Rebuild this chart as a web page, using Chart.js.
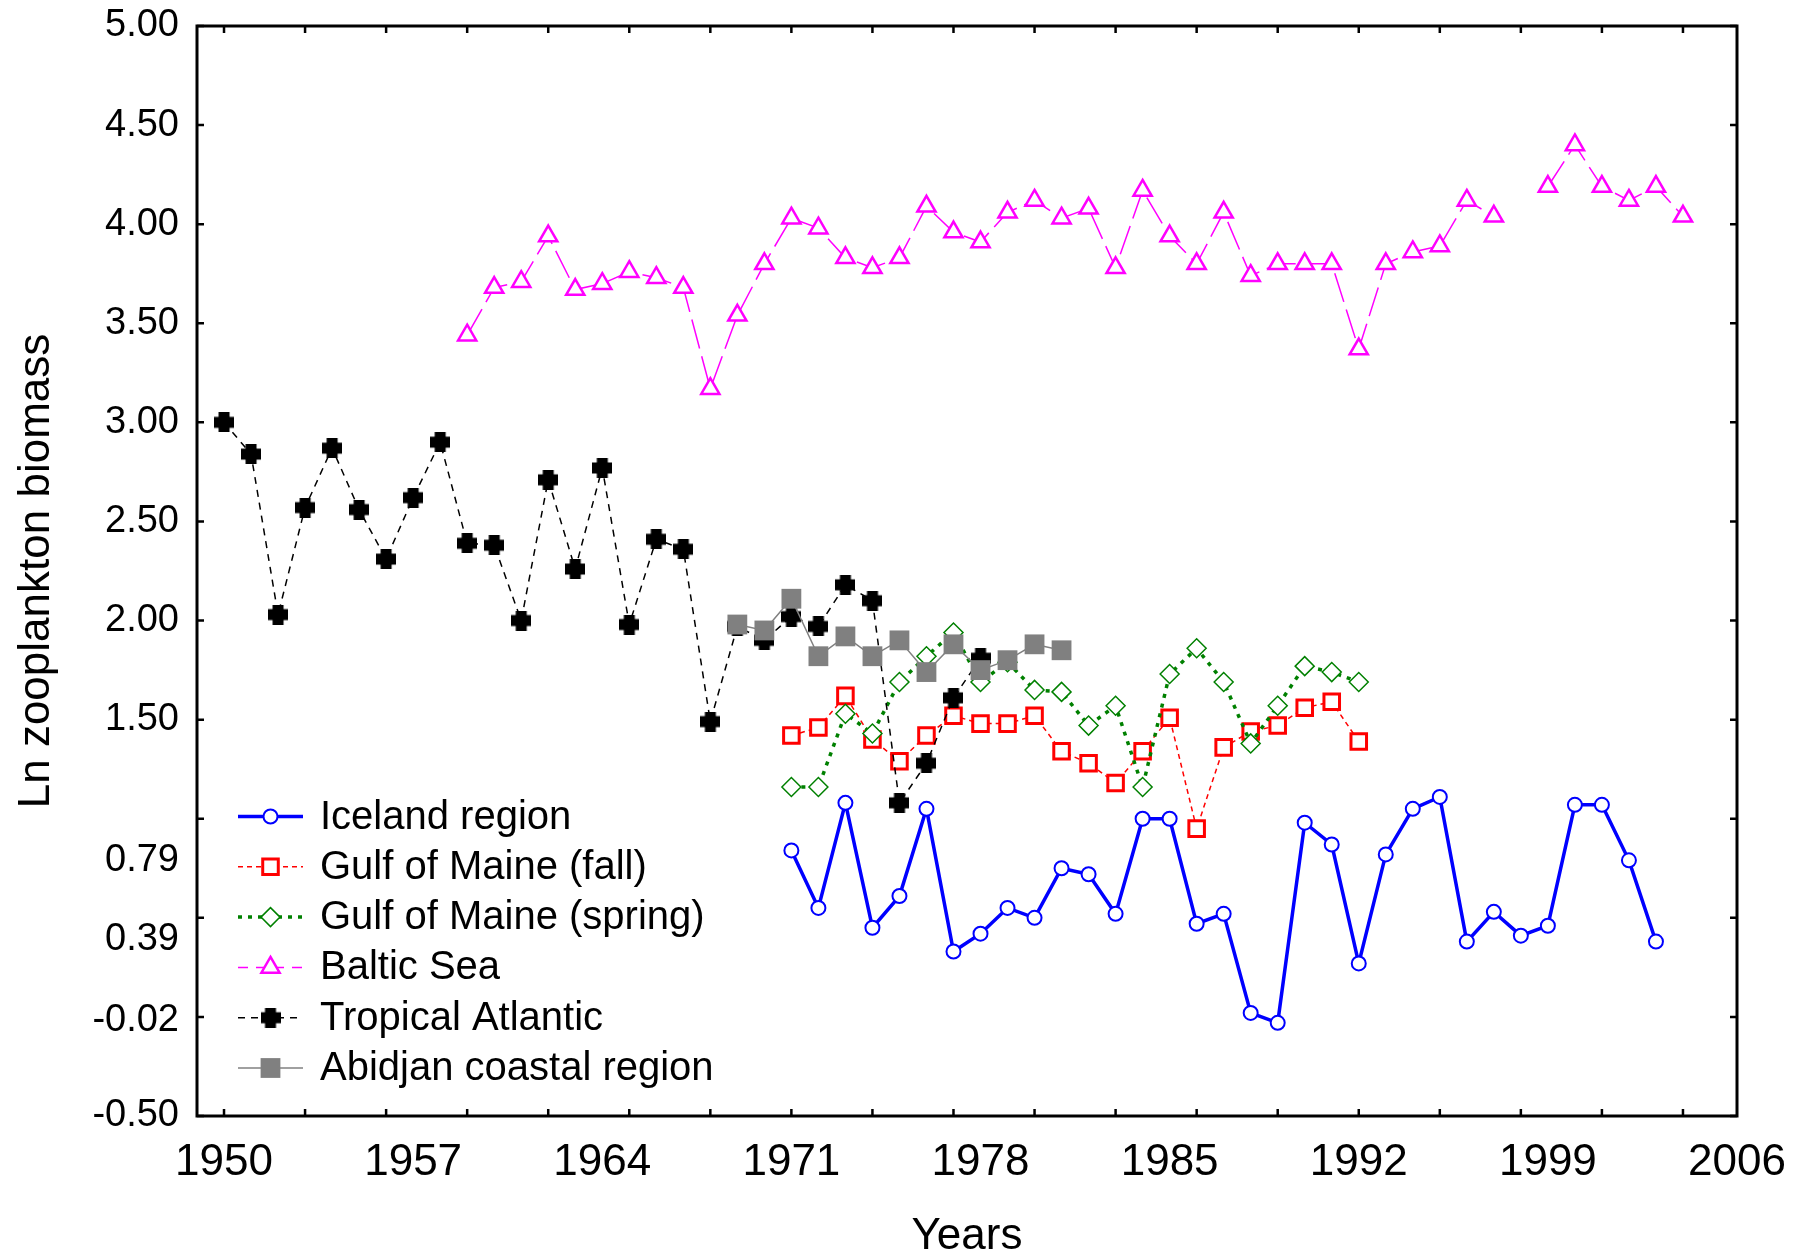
<!DOCTYPE html>
<html>
<head>
<meta charset="utf-8">
<script src="https://cdn.jsdelivr.net/npm/chart.js@4/dist/chart.umd.min.js"></script>
<style>
  html, body { margin: 0; padding: 0; background: #fff; }
  #wrap { width: 1793px; height: 1259px; }
</style>
</head>
<body>
<div id="wrap"><canvas id="chart" width="1793" height="1259"></canvas></div>
<script>
// Survey years (x categories)
const YEARS = [1950, 1951, 1952, 1953, 1954, 1955, 1956, 1957, 1958, 1959,
               1960, 1961, 1962, 1963, 1964, 1965, 1966, 1967, 1968, 1969,
               1970, 1971, 1972, 1973, 1974, 1975, 1976, 1977, 1978, 1979,
               1980, 1981, 1982, 1983, 1984, 1985, 1986, 1987, 1988, 1989,
               1990, 1991, 1992, 1993, 1994, 1995, 1996, 1997, 1998, 1999,
               2000, 2001, 2002, 2003, 2004];

// Ln zooplankton biomass per region, listed from the first surveyed year
const ICELAND_FROM = 1971;
const ICELAND = [0.84, 0.55, 1.08, 0.45, 0.61, 1.05, 0.33, 0.42, 0.55, 0.50,
                 0.75, 0.72, 0.52, 1.00, 1.00, 0.47, 0.52, 0.02, -0.03, 0.98,
                 0.87, 0.27, 0.82, 1.05, 1.11, 0.38, 0.53, 0.41, 0.46, 1.07,
                 1.07, 0.79, 0.38];

const GOM_FALL_FROM = 1971;
const GOM_FALL = [1.42, 1.46, 1.62, 1.40, 1.29, 1.42, 1.52, 1.48, 1.48, 1.52,
                  1.34, 1.28, 1.18, 1.34, 1.51, 0.95, 1.36, 1.44, 1.47, 1.56,
                  1.59, 1.39];

const GOM_SPRING_FROM = 1971;
const GOM_SPRING = [1.16, 1.16, 1.53, 1.43, 1.69, 1.82, 1.94, 1.69, 1.79, 1.65,
                    1.64, 1.47, 1.57, 1.16, 1.73, 1.86, 1.69, 1.38, 1.57, 1.77,
                    1.74, 1.69];

const BALTIC_FROM = 1959;
const BALTIC = [3.44, 3.68, 3.71, 3.94, 3.67, 3.70, 3.76, 3.73, 3.68, 3.17,
                3.54, 3.80, 4.03, 3.98, 3.83, 3.78, 3.83, 4.09, 3.96, 3.91,
                4.06, 4.12, 4.03, 4.08, 3.78, 4.17, 3.94, 3.80, 4.06, 3.74,
                3.80, 3.80, 3.80, 3.37, 3.80, 3.86, 3.89, 4.12, 4.04, null,
                4.19, 4.40, 4.19, 4.12, 4.19, 4.04];

const TROPICAL_FROM = 1950;
const TROPICAL = [3.00, 2.84, 2.03, 2.57, 2.87, 2.56, 2.31, 2.62, 2.90, 2.39,
                  2.38, 2.00, 2.71, 2.26, 2.77, 1.98, 2.41, 2.36, 1.49, 1.97,
                  1.90, 2.02, 1.97, 2.18, 2.10, 1.08, 1.28, 1.61, 1.81];

const ABIDJAN_FROM = 1969;
const ABIDJAN = [1.98, 1.95, 2.11, 1.82, 1.92, 1.82, 1.90, 1.74, 1.88, 1.75,
                 1.80, 1.88, 1.85];

// Axis ticks
const X_LABEL_YEARS = [1950, 1957, 1964, 1971, 1978, 1985, 1992, 1999, 2006];
const X_TICK_MARKS = [1950, 1953, 1956, 1959, 1962, 1965, 1968, 1971, 1974, 1977,
                      1980, 1983, 1986, 1989, 1992, 1995, 1998, 2001, 2004];
const Y_LABEL_VALUES = [5.00, 4.50, 4.00, 3.50, 3.00, 2.50, 2.00, 1.50, 0.79, 0.39, -0.02, -0.50];
const Y_TICK_MARKS = [5.0, 4.5, 4.0, 3.5, 3.0, 2.5, 2.0, 1.5, 1.0, 0.5, 0.0, -0.5];

const FONT = "Arial, 'Liberation Sans', sans-serif";

// Place a series on the shared year list (null where a region has no survey)
function alignToYears(firstYear, values) {
  return YEARS.map(yr => {
    const k = yr - firstYear;
    const v = (k >= 0 && k < values.length) ? values[k] : null;
    return { x: yr, y: v };
  });
}

// Chunky filled plus used for the Tropical Atlantic points
function plusMarker(size, color) {
  const c = document.createElement('canvas');
  c.width = size; c.height = size;
  const g = c.getContext('2d');
  g.fillStyle = color;
  const t = Math.round(size * 0.56), o = (size - t) / 2;
  g.fillRect(o, 0, t, size);
  g.fillRect(0, o, size, t);
  g.beginPath();
  g.arc(size / 2, size / 2, size * 0.37, 0, Math.PI * 2);
  g.fill();
  return c;
}

const datasets = [
  {
    label: 'Iceland region',
    data: alignToYears(ICELAND_FROM, ICELAND),
    borderColor: '#0000ff', borderWidth: 3.5, borderDash: [],
    pointStyle: 'circle', pointRadius: 7, pointBorderWidth: 2,
    pointBorderColor: '#0000ff', pointBackgroundColor: '#ffffff',
    order: 4
  },
  {
    label: 'Gulf of Maine (fall)',
    data: alignToYears(GOM_FALL_FROM, GOM_FALL),
    borderColor: '#ff0000', borderWidth: 1.5, borderDash: [5, 4],
    pointStyle: 'rect', pointRadius: 11, pointBorderWidth: 3,
    pointBorderColor: '#ff0000', pointBackgroundColor: '#ffffff',
    order: 3
  },
  {
    label: 'Gulf of Maine (spring)',
    data: alignToYears(GOM_SPRING_FROM, GOM_SPRING),
    borderColor: '#008000', borderWidth: 3.5, borderDash: [4, 6],
    pointStyle: 'rectRot', pointRadius: 9.5, pointBorderWidth: 1.5,
    pointBorderColor: '#008000', pointBackgroundColor: '#ffffff',
    order: 2
  },
  {
    label: 'Baltic Sea',
    data: alignToYears(BALTIC_FROM, BALTIC),
    borderColor: '#ff00ff', borderWidth: 1.5, borderDash: [30, 8],
    pointStyle: 'triangle', pointRadius: 10.5, pointBorderWidth: 2.5,
    pointBorderColor: '#ff00ff', pointBackgroundColor: '#ffffff',
    order: 5
  },
  {
    label: 'Tropical Atlantic',
    data: alignToYears(TROPICAL_FROM, TROPICAL),
    borderColor: '#000000', borderWidth: 1.5, borderDash: [7, 6],
    pointStyle: plusMarker(20, '#000000'), pointRadius: 10, pointBorderWidth: 0,
    pointBorderColor: '#000000', pointBackgroundColor: '#000000',
    order: 1
  },
  {
    label: 'Abidjan coastal region',
    data: alignToYears(ABIDJAN_FROM, ABIDJAN),
    borderColor: '#808080', borderWidth: 1.5, borderDash: [],
    pointStyle: 'rect', pointRadius: 14, pointBorderWidth: 0,
    pointBorderColor: '#808080', pointBackgroundColor: '#808080',
    order: 0
  }
];

// Black frame with inward tick marks on all four sides, plus the in-plot legend
const frameAndLegend = {
  id: 'frameAndLegend',
  afterDraw(chart) {
    const { ctx, chartArea: a, scales: { x, y } } = chart;
    ctx.save();
    ctx.setLineDash([]);
    ctx.strokeStyle = '#000';
    ctx.lineWidth = 2.5;
    const len = 7;
    ctx.beginPath();
    X_TICK_MARKS.forEach(v => {
      const px = x.getPixelForValue(v);
      ctx.moveTo(px, a.bottom); ctx.lineTo(px, a.bottom - len);
      ctx.moveTo(px, a.top); ctx.lineTo(px, a.top + len);
    });
    Y_TICK_MARKS.forEach(v => {
      const py = y.getPixelForValue(v);
      ctx.moveTo(a.left, py); ctx.lineTo(a.left + len, py);
      ctx.moveTo(a.right, py); ctx.lineTo(a.right - len, py);
    });
    ctx.stroke();
    ctx.lineWidth = 3;
    ctx.strokeRect(a.left, a.top, a.right - a.left, a.bottom - a.top);

    // legend
    const ds = chart.data.datasets;
    const step = 50.3;
    const x0 = a.left + 41, x1 = x0 + 65, xm = (x0 + x1) / 2, tx = x1 + 17;
    const lastY = a.bottom - 48;
    const firstY = lastY - step * (ds.length - 1);
    ds.forEach((d, i) => {
      const cy = firstY + i * step;
      ctx.save();
      ctx.strokeStyle = d.borderColor;
      ctx.lineWidth = d.borderWidth;
      ctx.setLineDash(d.borderDash && d.borderDash.length ? d.borderDash.map(n => Math.min(n, 10)) : []);
      ctx.beginPath();
      ctx.moveTo(x0, cy); ctx.lineTo(x1, cy);
      ctx.stroke();
      ctx.setLineDash([]);
      ctx.fillStyle = d.pointBackgroundColor;
      ctx.strokeStyle = d.pointBorderColor;
      ctx.lineWidth = d.pointBorderWidth;
      Chart.helpers.drawPoint(ctx, {
        pointStyle: d.pointStyle, radius: d.pointRadius, rotation: 0,
        borderWidth: d.pointBorderWidth
      }, xm, cy);
      ctx.restore();
      ctx.fillStyle = '#000';
      ctx.font = '40px ' + FONT;
      ctx.textAlign = 'left';
      ctx.textBaseline = 'middle';
      ctx.fillText(d.label, tx, cy + 1);
    });
    ctx.restore();
  }
};

new Chart(document.getElementById('chart'), {
  type: 'line',
  data: { datasets },
  options: {
    responsive: false,
    animation: false,
    devicePixelRatio: 1,
    spanGaps: false,
    layout: { padding: { top: 26, right: 56, bottom: 0, left: 0 } },
    plugins: { legend: { display: false }, tooltip: { enabled: false } },
    elements: { line: { tension: 0 } },
    scales: {
      x: {
        type: 'linear',
        min: 1949, max: 2006,
        grid: { display: false, drawTicks: false },
        border: { display: false },
        afterBuildTicks: s => { s.ticks = X_LABEL_YEARS.map(v => ({ value: v })); },
        afterFit: s => { s.height = 143; s.paddingLeft = 0; s.paddingRight = 0; },
        ticks: {
          autoSkip: false, maxRotation: 0, padding: 20, color: '#000',
          font: { family: FONT, size: 44 },
          callback: v => String(v)
        },
        title: {
          display: true, text: 'Years', color: '#000',
          font: { family: FONT, size: 44, lineHeight: 1.0 },
          padding: { top: 0, bottom: 0 }
        }
      },
      y: {
        type: 'linear',
        min: -0.5, max: 5.0,
        grid: { display: false, drawTicks: false },
        border: { display: false },
        afterBuildTicks: s => { s.ticks = Y_LABEL_VALUES.map(v => ({ value: v })); },
        afterFit: s => { s.width = 197; s.paddingTop = 0; s.paddingBottom = 0; },
        ticks: {
          autoSkip: false, padding: 18, color: '#000',
          font: { family: FONT, size: 38 },
          callback: v => Number(v).toFixed(2)
        },
        title: {
          display: true, text: 'Ln zooplankton biomass', color: '#000',
          font: { family: FONT, size: 44, lineHeight: 1.2 },
          padding: { top: 10, bottom: 0 }
        }
      }
    }
  },
  plugins: [frameAndLegend]
});
</script>
</body>
</html>
